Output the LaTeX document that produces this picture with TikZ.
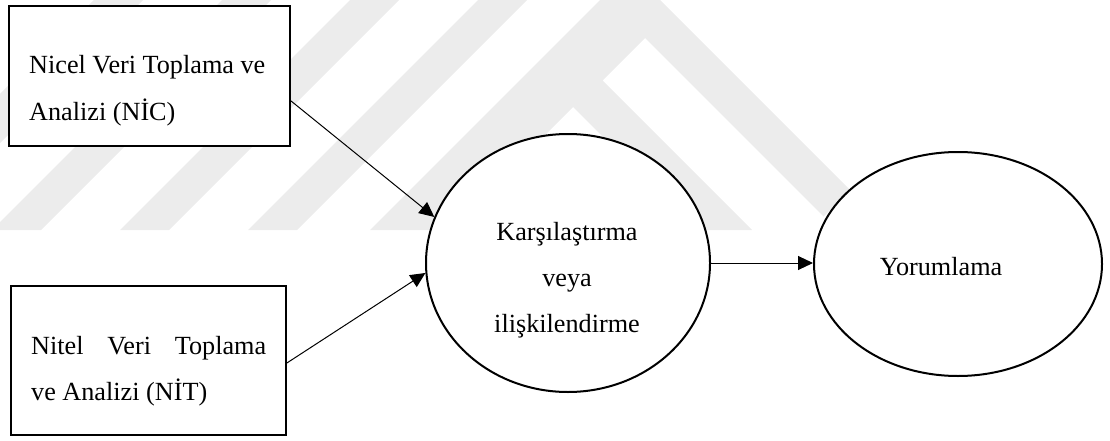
\documentclass[tikz,border=0pt]{standalone}
\usepackage{fontspec}
\setmainfont{Liberation Serif}
\usetikzlibrary{arrows.meta,shapes.geometric}
\definecolor{wm}{RGB}{236,236,236}
\begin{document}
\begin{tikzpicture}[x=1pt,y=-1pt,
  box/.style={draw,line width=2pt,fill=white,rectangle,inner sep=0pt},
  oval/.style={draw,line width=2pt,fill=white,ellipse,inner sep=0pt},
  txt/.style={inner sep=0pt,font=\fontsize{26.2}{30}\selectfont},
  conn/.style={line width=1pt,-{Triangle[length=15pt,width=14pt]}}]
\useasboundingbox (0,0) rectangle (1110,441);
% faint background watermark
\begin{scope}
\clip (0,0) rectangle (1110,441);
\foreach \a in {-136,-8,120,248}
  \fill[wm] (\a,230) -- (\a+49,230) -- (\a+279,0) -- (\a+230,0) -- cycle;
\fill[wm] (370,230) -- (630,-30) -- (850,190) -- (823.5,216.5) -- (645,38)
  -- (602.5,80.5) -- (752,230) -- (696,230) -- (573,107) -- (450,230) -- cycle;
\end{scope}
% nodes
\node[box,minimum width=281pt,minimum height=140pt] (b1) at (149.5,76) {};
\node[box,minimum width=275pt,minimum height=149pt] (b2) at (148.5,360.5) {};
\node[oval,minimum width=284pt,minimum height=258pt] (e1) at (568,263) {};
\node[oval,minimum width=288pt,minimum height=224pt] (e2) at (958,264) {};
% texts
\node[txt,anchor=base west] (t1a) at (29,74) {Nicel Veri Toplama ve};
\node[txt,anchor=base west] (t1b) at (29,121) {Analizi (NİC)};
\node[txt,anchor=base west] (t2a) at (31,354) {\makebox[235pt][s]{Nitel Veri Toplama}};
\node[txt,anchor=base west] (t2b) at (31,400) {ve Analizi (NİT)};
\node[txt,anchor=base] (k1) at (567,240) {Karşılaştırma};
\node[txt,anchor=base] (k2) at (567,286) {veya};
\node[txt,anchor=base] (k3) at (567,332) {ilişkilendirme};
\node[txt,anchor=base] (y1) at (941,275) {Yorumlama};
% connectors
\draw[conn] (b1.-10) -- (e1.161);
\draw[conn] (b2.-1) -- (e1.184);
\draw[conn] (e1.east) -- (e1.east -| e2.west);
\end{tikzpicture}
\end{document}
